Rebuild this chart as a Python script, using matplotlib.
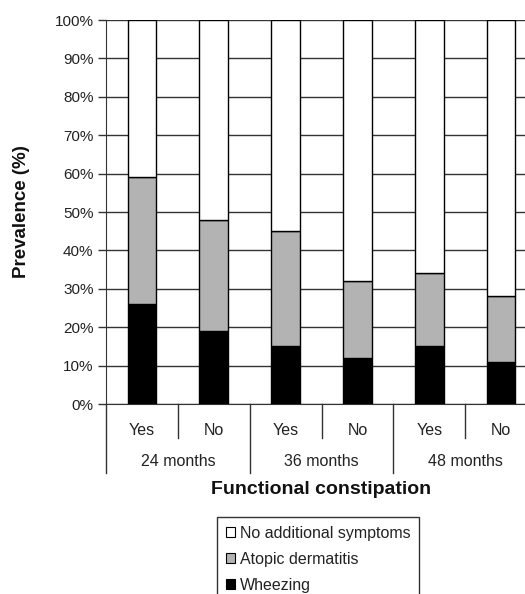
import matplotlib
matplotlib.use("Agg")
import matplotlib.pyplot as plt
from matplotlib.patches import Patch
from matplotlib.transforms import blended_transform_factory

plt.rcParams['font.family'] = ['Liberation Sans', 'DejaVu Sans']

bar_labels = ["Yes", "No", "Yes", "No", "Yes", "No"]
group_labels = ["24 months", "36 months", "48 months"]
wheezing = [26, 19, 15, 12, 15, 11]
atopic = [33, 29, 30, 20, 19, 17]
series_names = ["No additional symptoms", "Atopic dermatitis", "Wheezing"]
yticks = [0, 10, 20, 30, 40, 50, 60, 70, 80, 90, 100]

none_add = [100 - w - a for w, a in zip(wheezing, atopic)]

W, H = 525, 594
fig = plt.figure(figsize=(W / 100, H / 100), dpi=100)
ax = fig.add_axes([106 / W, 1 - 404 / H, 431 / W, 384 / H])

x = list(range(len(bar_labels)))
kw = dict(width=0.4, edgecolor="black", linewidth=1.0, zorder=3)
ax.bar(x, wheezing, color="black", **kw)
ax.bar(x, atopic, bottom=wheezing, color="#b3b3b3", **kw)
bottoms = [w + a for w, a in zip(wheezing, atopic)]
ax.bar(x, none_add, bottom=bottoms, color="white", **kw)

ax.set_xlim(-0.5, len(bar_labels) - 0.5)
ax.set_ylim(0, 100)
ax.set_yticks(yticks)
ax.set_yticklabels([f"{v}%" for v in yticks], fontsize=11, color="#222222")
ax.yaxis.grid(True, color="#333333", linewidth=1.0, zorder=0)
ax.set_axisbelow(True)
ax.tick_params(axis="y", direction="out", length=6, width=1, color="#333333", pad=3)
ax.set_xticks([])
for s in ["top", "right"]:
    ax.spines[s].set_visible(False)
ax.spines["left"].set_color("#333333")
ax.spines["bottom"].set_color("#333333")

tr = blended_transform_factory(ax.transData, ax.transAxes)
for i, lab in enumerate(bar_labels):
    ax.text(i, -0.068, lab, transform=tr, ha="center", va="center", fontsize=11.5, color="#222222")
for i in range(len(bar_labels) - 1):
    if i % 2 == 0:
        ax.plot([i + 0.5, i + 0.5], [0, -0.0885], transform=tr, color="#333333", lw=1, clip_on=False)
for g in range(len(group_labels) + 1):
    xg = 2 * g - 0.5
    ax.plot([xg, xg], [0, -0.18], transform=tr, color="#333333", lw=1, clip_on=False)
for g, lab in enumerate(group_labels):
    ax.text(2 * g + 0.5, -0.151, lab, transform=tr, ha="center", va="center", fontsize=11.5, color="#222222")

fig.text(321 / W, 1 - 490 / H, "Functional constipation", ha="center", va="center",
         fontsize=14, fontweight="bold", color="#111111")
fig.text(22 / W, 1 - 212 / H, "Prevalence (%)", ha="center", va="center", rotation=90,
         fontsize=13.5, fontweight="bold", color="#111111")

handles = [Patch(facecolor="white", edgecolor="black", lw=0.8),
           Patch(facecolor="#b3b3b3", edgecolor="black", lw=0.8),
           Patch(facecolor="black", edgecolor="black", lw=0.8)]
leg = fig.legend(handles, series_names, loc="upper center", bbox_to_anchor=(318 / W, 1 - 517 / H),
                 fontsize=11.5, frameon=True, fancybox=False, handlelength=0.6, handleheight=0.6,
                 handletextpad=0.3, labelspacing=0.68, borderpad=0.55, borderaxespad=0)
leg.get_frame().set_edgecolor("black")
leg.get_frame().set_linewidth(1.0)
for t in leg.get_texts():
    t.set_color("#222222")

fig.savefig("out.png", dpi=100)
